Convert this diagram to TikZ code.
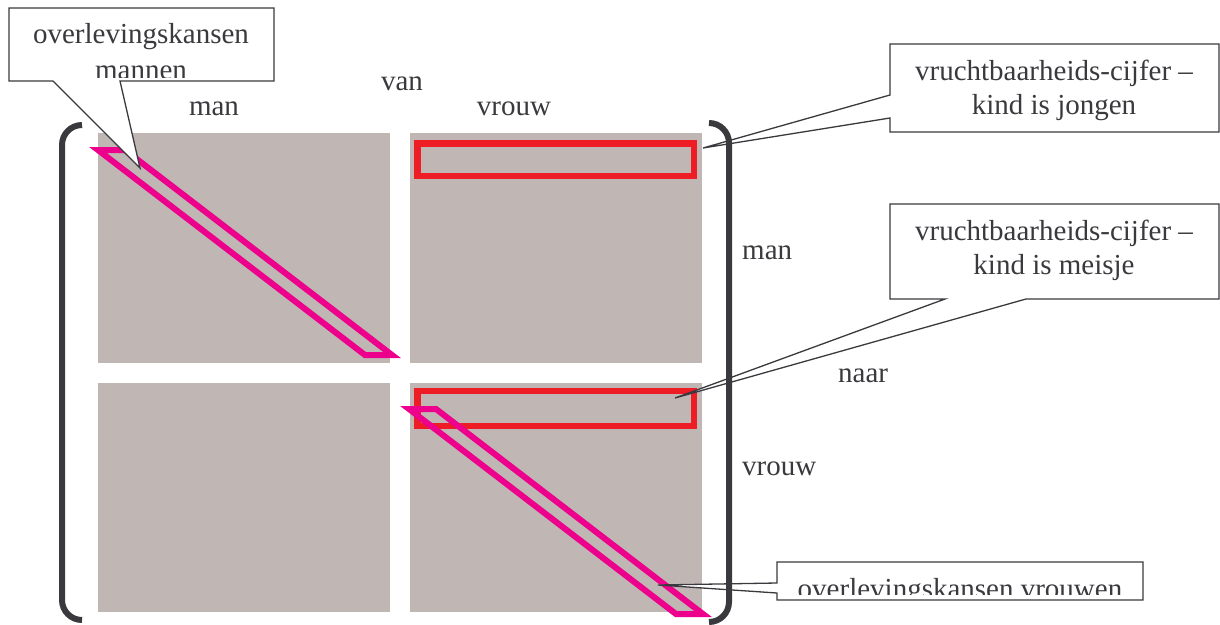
\documentclass[tikz,border=0pt]{standalone}
\usepackage{fontspec}
\setmainfont{Liberation Serif}
\definecolor{blockgray}{HTML}{C0B7B4}
\definecolor{hlred}{HTML}{EE1C25}
\definecolor{hlmag}{HTML}{EC008C}
\definecolor{ink}{HTML}{3A393D}
\begin{document}
\begin{tikzpicture}[x=1pt,y=-1pt,
  block/.style={fill=blockgray},
  redbox/.style={draw=hlred,line width=6.5pt},
  diagbox/.style={draw=hlmag,line width=6pt,line join=miter},
  bracket/.style={draw=ink,line width=6pt,rounded corners=20pt},
  callout/.style={draw=ink,fill=white,line width=1.3pt,line join=miter},
  lbl/.style={font=\fontsize{29}{34}\selectfont,text=ink,inner sep=0pt,anchor=base}]
\useasboundingbox (0,0) rectangle (1220,624);
% blocks
\fill[block] (98,133) rectangle (390,363);
\fill[block] (410,133) rectangle (702,363);
\fill[block] (98,383) rectangle (390,612);
\fill[block] (410,383) rectangle (702,612);
% red highlights
\draw[redbox] (417.5,143.5) rectangle (694,176);
\draw[redbox] (417.5,391) rectangle (694,426);
% magenta diagonals
\draw[diagbox] (98,150) -- (125,150) -- (392,355) -- (365,355) -- cycle;
\draw[diagbox] (409,409) -- (436,409) -- (703,614) -- (676,614) -- cycle;
% axis labels
\node[lbl] (lman) at (214,115) {man};
\node[lbl] (lvan) at (402,90) {van};
\node[lbl] (lvrouw) at (514,115) {vrouw};
\node[lbl,anchor=base west] (rman) at (742,259) {man};
\node[lbl,anchor=base west] (rnaar) at (838,382) {naar};
\node[lbl,anchor=base west] (rvrouw) at (742,475) {vrouw};
% callout 1
\coordinate (t1) at (140,168);
\draw[callout] (9,8) -- (274,8) -- (274,81) -- (120,81) -- (t1) -- (53,81) -- (9,81) -- cycle;
\begin{scope}
\clip (9,8) rectangle (274,77);
\node[lbl] (c1a) at (141,43) {overlevingskansen};
\node[lbl] (c1b) at (141,79) {mannen};
\end{scope}
% callout 2
\coordinate (t2) at (703,148);
\draw[callout] (890,44) -- (1219,44) -- (1219,132) -- (890,132) -- (890,118) -- (t2) -- (890,95) -- cycle;
\node[lbl] (c2a) at (1054,80) {vruchtbaarheids-cijfer –};
\node[lbl] (c2b) at (1054,114) {kind is jongen};
% callout 3
\coordinate (t3) at (675,398);
\draw[callout] (890,204) -- (1219,204) -- (1219,299) -- (1026,299) -- (t3) -- (945,299) -- (890,299) -- cycle;
\node[lbl] (c3a) at (1054,240) {vruchtbaarheids-cijfer –};
\node[lbl] (c3b) at (1054,274) {kind is meisje};
% callout 4
\coordinate (t4) at (658,585);
\draw[callout] (777,562) -- (1143,562) -- (1143,600) -- (777,600) -- (777,593) -- (t4) -- (777,583) -- cycle;
\begin{scope}
\clip (777,562) rectangle (1143,594);
\node[lbl] (c4) at (960,598) {overlevingskansen vrouwen};
\end{scope}
% brackets
\draw[bracket] (82,125) -- (62,125) -- (62,620) -- (82,620);
\draw[bracket] (709,123) -- (729,123) -- (729,622) -- (709,622);
\end{tikzpicture}
\end{document}
